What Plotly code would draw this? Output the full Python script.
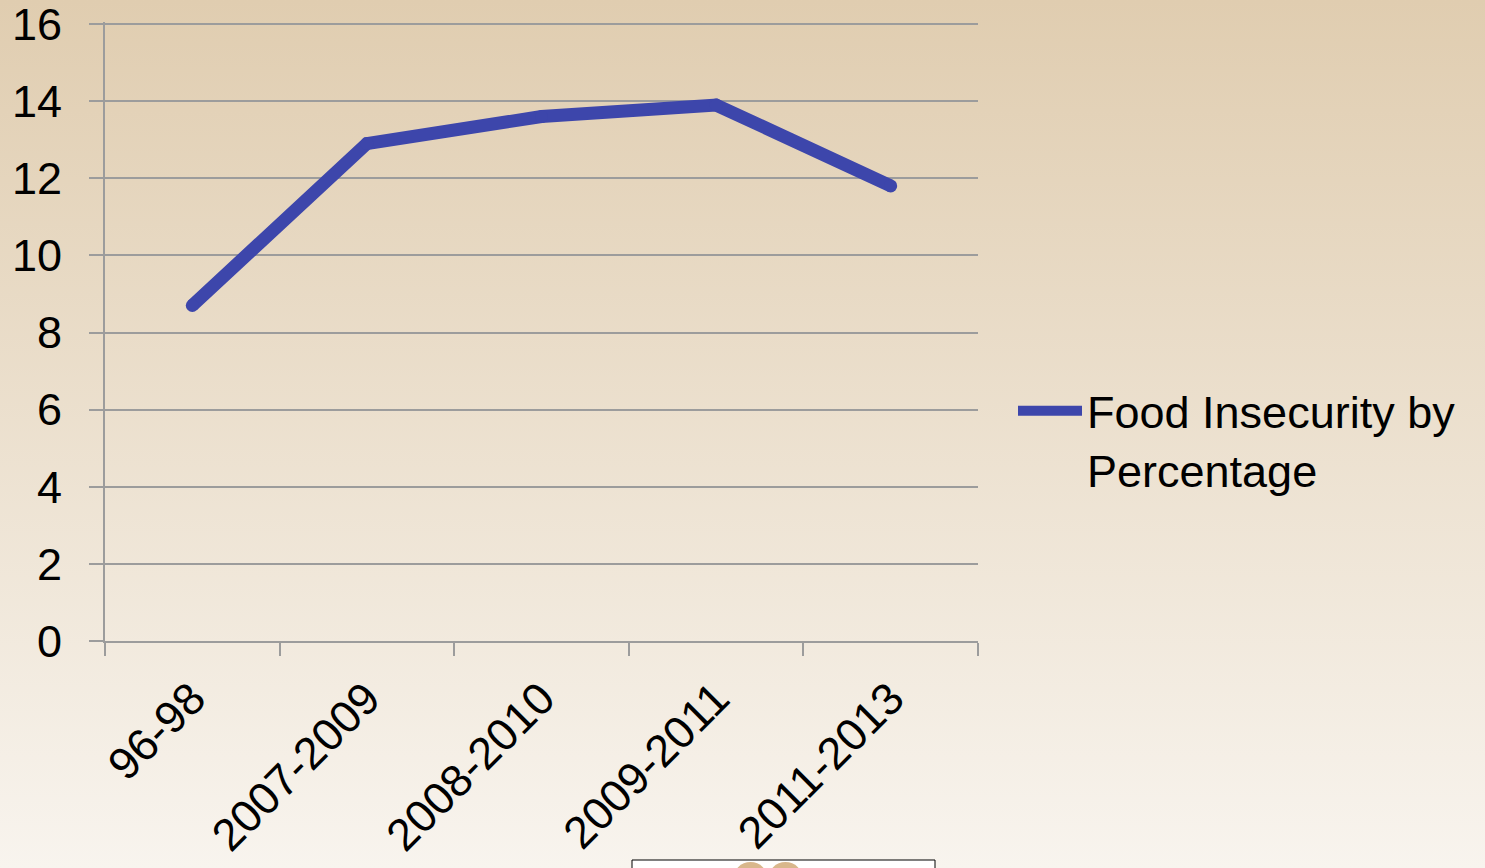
import base64
import plotly.graph_objects as go

categories = ["96-98", "2007-2009", "2008-2010", "2009-2011", "2011-2013"]
food_insecurity = [8.7, 12.9, 13.6, 13.9, 11.8]
series_name = "Food Insecurity by<br>Percentage"
y_ticks = [0, 2, 4, 6, 8, 10, 12, 14, 16]

W, H = 1485, 868
L, R, T, B = 105, 978, 22, 641
pw, ph = R - L, B - T
y_top = ph * 16 / (B - 24)  # keeps the 16 gridline at pixel 24

def px_x(p):
    return (p - L) / pw

def px_y(p):
    return (B - p) / ph

svg = (
    '<svg xmlns="http://www.w3.org/2000/svg" width="100" height="100" preserveAspectRatio="none">'
    '<defs><linearGradient id="g" x1="0" y1="0" x2="0" y2="1">'
    '<stop offset="0" stop-color="#E0CDB0"/>'
    '<stop offset="1" stop-color="#F8F4EE"/>'
    '</linearGradient></defs>'
    '<rect width="100" height="100" fill="url(#g)"/></svg>'
)
bg_src = "data:image/svg+xml;base64," + base64.b64encode(svg.encode()).decode()

FONT = "Liberation Sans, Arial, sans-serif"
GRID = "#9C9C9C"
LINE = "#3D46AB"

fig = go.Figure()
fig.add_trace(go.Scatter(
    x=categories, y=food_insecurity, mode="lines+markers", name=series_name,
    line=dict(color=LINE, width=13, shape="linear"),
    marker=dict(color=LINE, size=13, line=dict(width=0)),
    legendgroup="fi", showlegend=False,
))
fig.add_trace(go.Scatter(
    x=[None], y=[None], mode="lines", name=series_name,
    line=dict(color=LINE, width=13),
    legendgroup="fi", showlegend=True,
))

fig.update_layout(
    template="none",
    width=W, height=H, autosize=False,
    margin=dict(l=L, r=W - R, t=T, b=H - B, pad=0, autoexpand=False),
    paper_bgcolor="#F8F4EE",
    plot_bgcolor="rgba(0,0,0,0)",
    font=dict(family=FONT, size=45, color="#000000"),
    images=[dict(
        source=bg_src, xref="paper", yref="paper",
        x=px_x(0), y=px_y(0), sizex=W / pw, sizey=H / ph,
        xanchor="left", yanchor="top", sizing="stretch", layer="below",
    )],
    xaxis=dict(
        type="category", range=[-0.5, len(categories) - 0.5], automargin=False,
        tickson="boundaries", ticks="outside", ticklen=13,
        tickwidth=2, tickcolor=GRID, showgrid=False, showline=True,
        linecolor=GRID, linewidth=2, tickangle=-45, zeroline=False,
        tickfont=dict(family=FONT, size=45, color="#000000"),
        ticklabelstandoff=11,
    ),
    yaxis=dict(
        range=[0, y_top], tickvals=y_ticks, ticks="outside", ticklen=14,
        automargin=False,
        tickwidth=2, tickcolor=GRID, showgrid=True, gridcolor=GRID,
        gridwidth=2, showline=True, linecolor=GRID, linewidth=2,
        zeroline=False, tickfont=dict(family=FONT, size=45, color="#000000"),
        ticklabelstandoff=18, ticklabeloverflow="allow",
    ),
    legend=dict(
        x=px_x(1013), y=px_y(375), xanchor="left", yanchor="top",
        bgcolor="rgba(0,0,0,0)", font=dict(family=FONT, size=45, color="#000000"),
        valign="top", itemwidth=64, tracegroupgap=0,
    ),
    showlegend=True,
    shapes=[
        dict(type="rect", xref="paper", yref="paper",
             x0=px_x(632), x1=px_x(935), y0=px_y(880), y1=px_y(860),
             fillcolor="#FFFFFF", line=dict(color="#000000", width=1), layer="above"),
        dict(type="circle", xref="paper", yref="paper",
             x0=px_x(733), x1=px_x(768), y0=px_y(897), y1=px_y(862),
             fillcolor="#D9B78C", line=dict(width=0), layer="above"),
        dict(type="circle", xref="paper", yref="paper",
             x0=px_x(768), x1=px_x(803), y0=px_y(897), y1=px_y(862),
             fillcolor="#D9B78C", line=dict(width=0), layer="above"),
    ],
)

post = (
    "document.body.style.margin='0';"
    "var gd=document.querySelector('.plotly-graph-div');"
    "gd.style.position='fixed';"
    "gd.style.top='0';"
    "gd.style.left='0';"
)

fig.write_html(
    "out.html",
    config={"displayModeBar": False},
    post_script=post,
)
